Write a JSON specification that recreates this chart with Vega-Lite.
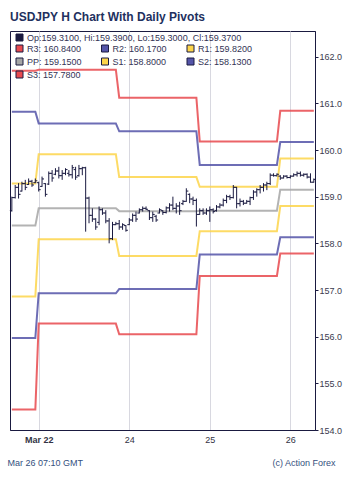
{
"$schema": "https://vega.github.io/schema/vega-lite/v6.json",
"width": 305, "height": 399,
"autosize": {"type": "none"},
"padding": {"left": 10, "top": 31, "right": 35, "bottom": 51},
"background": "white",
"config": {"font": "Liberation Sans", "view": {"stroke": "#1a1a40", "strokeWidth": 1}},
"title": {"text": "USDJPY H Chart With Daily Pivots", "anchor": "start", "fontSize": 12, "fontWeight": "bold", "color": "#22305e", "offset": 13, "dy": 15, "baseline": "alphabetic", "frame": "group"},
"datasets": {
"pivots": [
{"i":0,"R3":161.70,"R2":160.82,"R1":159.28,"PP":158.38,"S1":156.86,"S2":155.97,"S3":154.44},
{"i":7,"R3":161.70,"R2":160.82,"R1":159.28,"PP":158.38,"S1":156.86,"S2":155.97,"S3":154.44},
{"i":8,"R3":161.72,"R2":160.57,"R1":159.91,"PP":158.75,"S1":158.09,"S2":156.93,"S3":156.28},
{"i":31,"R3":161.72,"R2":160.57,"R1":159.91,"PP":158.75,"S1":158.09,"S2":156.93,"S3":156.28},
{"i":32,"R3":161.12,"R2":160.40,"R1":159.42,"PP":158.69,"S1":157.73,"S2":157.02,"S3":156.05},
{"i":55,"R3":161.12,"R2":160.40,"R1":159.42,"PP":158.69,"S1":157.73,"S2":157.02,"S3":156.05},
{"i":56,"R3":160.18,"R2":159.68,"R1":159.21,"PP":158.70,"S1":158.26,"S2":157.76,"S3":157.30},
{"i":79,"R3":160.18,"R2":159.68,"R1":159.21,"PP":158.70,"S1":158.26,"S2":157.76,"S3":157.30},
{"i":80,"R3":160.84,"R2":160.17,"R1":159.82,"PP":159.15,"S1":158.80,"S2":158.13,"S3":157.78},
{"i":90,"R3":160.84,"R2":160.17,"R1":159.82,"PP":159.15,"S1":158.80,"S2":158.13,"S3":157.78}
],
"ohlc": [
{"i":0,"o":158.70,"h":159.00,"l":158.68,"c":158.98},
{"i":1,"o":158.98,"h":159.25,"l":158.96,"c":159.20},
{"i":2,"o":159.20,"h":159.29,"l":158.96,"c":159.05},
{"i":3,"o":159.12,"h":159.32,"l":159.11,"c":159.28},
{"i":4,"o":159.28,"h":159.36,"l":159.14,"c":159.20},
{"i":5,"o":159.26,"h":159.39,"l":159.25,"c":159.33},
{"i":6,"o":159.33,"h":159.36,"l":159.21,"c":159.25},
{"i":7,"o":159.30,"h":159.39,"l":159.29,"c":159.34},
{"i":8,"o":159.30,"h":159.32,"l":159.11,"c":159.15},
{"i":9,"o":159.22,"h":159.43,"l":159.21,"c":159.38},
{"i":10,"o":159.28,"h":159.29,"l":159.00,"c":159.05},
{"i":11,"o":159.27,"h":159.54,"l":159.25,"c":159.50},
{"i":12,"o":159.50,"h":159.57,"l":159.32,"c":159.40},
{"i":13,"o":159.48,"h":159.61,"l":159.46,"c":159.55},
{"i":14,"o":159.55,"h":159.64,"l":159.39,"c":159.45},
{"i":15,"o":159.45,"h":159.57,"l":159.36,"c":159.50},
{"i":16,"o":159.50,"h":159.61,"l":159.46,"c":159.58},
{"i":17,"o":159.50,"h":159.57,"l":159.43,"c":159.47},
{"i":18,"o":159.47,"h":159.68,"l":159.39,"c":159.62},
{"i":19,"o":159.58,"h":159.64,"l":159.36,"c":159.42},
{"i":20,"o":159.45,"h":159.68,"l":159.43,"c":159.60},
{"i":21,"o":159.60,"h":159.64,"l":159.46,"c":159.62},
{"i":22,"o":159.62,"h":159.64,"l":158.25,"c":158.97},
{"i":23,"o":158.97,"h":159.00,"l":158.43,"c":158.60},
{"i":24,"o":158.60,"h":158.75,"l":158.46,"c":158.52},
{"i":25,"o":158.52,"h":158.54,"l":158.29,"c":158.35},
{"i":26,"o":158.45,"h":158.79,"l":158.39,"c":158.72},
{"i":27,"o":158.72,"h":158.75,"l":158.61,"c":158.65},
{"i":28,"o":158.65,"h":158.71,"l":158.43,"c":158.48},
{"i":29,"o":158.48,"h":158.54,"l":158.00,"c":158.10},
{"i":30,"o":158.10,"h":158.46,"l":158.07,"c":158.40},
{"i":31,"o":158.40,"h":158.46,"l":158.39,"c":158.42},
{"i":32,"o":158.42,"h":158.50,"l":158.29,"c":158.35},
{"i":33,"o":158.35,"h":158.43,"l":158.29,"c":158.40},
{"i":34,"o":158.38,"h":158.39,"l":158.25,"c":158.28},
{"i":35,"o":158.40,"h":158.54,"l":158.39,"c":158.50},
{"i":36,"o":158.50,"h":158.64,"l":158.46,"c":158.60},
{"i":37,"o":158.60,"h":158.68,"l":158.46,"c":158.52},
{"i":38,"o":158.65,"h":158.75,"l":158.64,"c":158.72},
{"i":39,"o":158.72,"h":158.79,"l":158.68,"c":158.75},
{"i":40,"o":158.75,"h":158.79,"l":158.71,"c":158.73},
{"i":41,"o":158.70,"h":158.71,"l":158.50,"c":158.55},
{"i":42,"o":158.55,"h":158.68,"l":158.46,"c":158.62},
{"i":43,"o":158.58,"h":158.61,"l":158.46,"c":158.50},
{"i":44,"o":158.65,"h":158.75,"l":158.64,"c":158.72},
{"i":45,"o":158.70,"h":158.71,"l":158.61,"c":158.66},
{"i":46,"o":158.66,"h":158.79,"l":158.64,"c":158.76},
{"i":47,"o":158.76,"h":158.86,"l":158.68,"c":158.82},
{"i":48,"o":158.82,"h":159.00,"l":158.71,"c":158.75},
{"i":49,"o":158.75,"h":158.86,"l":158.64,"c":158.80},
{"i":50,"o":158.80,"h":158.89,"l":158.61,"c":158.70},
{"i":51,"o":158.85,"h":158.93,"l":158.82,"c":158.90},
{"i":52,"o":158.90,"h":159.18,"l":158.89,"c":159.12},
{"i":53,"o":159.05,"h":159.07,"l":158.86,"c":158.95},
{"i":54,"o":158.95,"h":159.00,"l":158.82,"c":158.92},
{"i":55,"o":158.92,"h":158.96,"l":158.36,"c":158.62},
{"i":56,"o":158.62,"h":158.75,"l":158.61,"c":158.70},
{"i":57,"o":158.70,"h":158.75,"l":158.61,"c":158.65},
{"i":58,"o":158.65,"h":158.75,"l":158.61,"c":158.70},
{"i":59,"o":158.70,"h":158.79,"l":158.46,"c":158.72},
{"i":60,"o":158.72,"h":158.75,"l":158.64,"c":158.68},
{"i":61,"o":158.70,"h":158.82,"l":158.68,"c":158.78},
{"i":62,"o":158.78,"h":158.86,"l":158.75,"c":158.82},
{"i":63,"o":158.82,"h":158.96,"l":158.79,"c":158.92},
{"i":64,"o":158.92,"h":159.04,"l":158.86,"c":159.00},
{"i":65,"o":159.00,"h":159.04,"l":158.93,"c":158.98},
{"i":66,"o":158.98,"h":159.25,"l":158.96,"c":159.20},
{"i":67,"o":159.20,"h":159.21,"l":158.75,"c":158.85},
{"i":68,"o":158.85,"h":158.96,"l":158.79,"c":158.90},
{"i":69,"o":158.90,"h":158.93,"l":158.82,"c":158.86},
{"i":70,"o":158.86,"h":158.93,"l":158.85,"c":158.90},
{"i":71,"o":158.90,"h":159.00,"l":158.82,"c":158.98},
{"i":72,"o":158.98,"h":159.14,"l":158.93,"c":159.10},
{"i":73,"o":159.10,"h":159.18,"l":159.00,"c":159.15},
{"i":74,"o":159.15,"h":159.25,"l":159.07,"c":159.20},
{"i":75,"o":159.20,"h":159.29,"l":159.11,"c":159.25},
{"i":76,"o":159.25,"h":159.32,"l":159.14,"c":159.28},
{"i":77,"o":159.28,"h":159.50,"l":159.25,"c":159.46},
{"i":78,"o":159.46,"h":159.50,"l":159.43,"c":159.45},
{"i":79,"o":159.45,"h":159.50,"l":159.43,"c":159.48},
{"i":80,"o":159.44,"h":159.46,"l":159.36,"c":159.40},
{"i":81,"o":159.40,"h":159.46,"l":159.39,"c":159.44},
{"i":82,"o":159.44,"h":159.46,"l":159.39,"c":159.41},
{"i":83,"o":159.41,"h":159.46,"l":159.39,"c":159.44},
{"i":84,"o":159.44,"h":159.50,"l":159.43,"c":159.47},
{"i":85,"o":159.47,"h":159.54,"l":159.43,"c":159.50},
{"i":86,"o":159.50,"h":159.54,"l":159.43,"c":159.46},
{"i":87,"o":159.46,"h":159.50,"l":159.43,"c":159.48},
{"i":88,"o":159.48,"h":159.50,"l":159.39,"c":159.42},
{"i":89,"o":159.42,"h":159.50,"l":159.30,"c":159.31},
{"i":90,"o":159.31,"h":159.39,"l":159.30,"c":159.37}
]
},
"layer": [
{
"data": {"name": "pivots"},
"transform": [{"fold": ["R3","R2","R1","PP","S1","S2","S3"], "as": ["s","v"]}],
"mark": {"type": "line", "strokeWidth": 2, "opacity": 0.85},
"encoding": {
"x": {"field": "i", "type": "quantitative", "scale": {"domain": [-0.55, 90.35], "nice": false, "zero": false},
"axis": {"values": [8, 35, 59, 83], "labelExpr": "datum.value == 8 ? 'Mar 22' : datum.value == 35 ? '24' : datum.value == 59 ? '25' : '26'",
"labelFontWeight": {"condition": {"test": "datum.value == 8", "value": "bold"}, "value": "normal"},
"labelFontSize": 9, "labelColor": "#333344", "ticks": false, "labelPadding": 5, "labelOverlap": false,
"grid": true, "gridColor": "#d8d8e0", "domainColor": "#1a1a40",
"title": "Mar 26 07:10 GMT", "titleX": -3, "titleY": 35, "titleAlign": "left", "titleBaseline": "alphabetic",
"titleFontSize": 9, "titleFontWeight": "normal", "titleColor": "#34507e"}},
"y": {"field": "v", "type": "quantitative", "scale": {"domain": [154, 162.55], "nice": false, "zero": false},
"axis": {"orient": "right", "values": [154,154.5,155,155.5,156,156.5,157,157.5,158,158.5,159,159.5,160,160.5,161,161.5,162],
"format": ".1f", "labelFontSize": 9, "labelColor": "#3a3a4e", "tickColor": "#1a1a40", "tickSize": 3, "labelPadding": 1,
"domainColor": "#1a1a40", "grid": false,
"title": "(c) Action Forex", "titleAngle": 0, "titleAlign": "right", "titleBaseline": "alphabetic", "titleX": 20, "titleY": 434,
"titleFontSize": 9, "titleFontWeight": "normal", "titleColor": "#34507e"}},
"stroke": {"field": "s", "type": "nominal",
"scale": {"range": ["#a6a6a6","#fdd54a","#5454a8","#e8494e","#fdd54a","#5454a8","#e8494e"]},
"legend": null}
}
},
{
"data": {"name": "pivots"},
"transform": [{"fold": ["R3","R2","R1","PP","S1","S2","S3"], "as": ["key","v"]}],
"mark": {"type": "square", "filled": true, "opacity": 0, "size": 1},
"encoding": {
"x": {"field": "i", "type": "quantitative"},
"y": {"field": "v", "type": "quantitative"},
"fill": {"field": "key", "type": "nominal",
"scale": {"domain": ["R3","R2","R1","PP","S1","S2","S3"], "range": ["#e8494e","#5454a8","#fdd54a","#a6a6a6","#fdd54a","#5454a8","#e8494e"]},
"legend": {"title": null, "orient": "none", "legendX": 5, "legendY": 13, "columns": 3, "direction": "horizontal", "gridAlign": "all",
"columnPadding": 17.5, "rowPadding": 2, "symbolType": "square", "symbolSize": 49, "labelFontSize": 9, "labelOffset": 3, "padding": 0,
"labelColor": "#333355", "symbolOpacity": 1, "symbolStrokeColor": "#1a1a40", "symbolStrokeWidth": 1,
"labelExpr": "datum.label == 'R3' ? 'R3: 160.8400' : datum.label == 'R2' ? 'R2: 160.1700' : datum.label == 'R1' ? 'R1: 159.8200' : datum.label == 'PP' ? 'PP: 159.1500' : datum.label == 'S1' ? 'S1: 158.8000' : datum.label == 'S2' ? 'S2: 158.1300' : 'S3: 157.7800'"}}
}
},
{
"data": {"name": "ohlc"},
"mark": {"type": "rule", "color": "#1a1a40", "strokeWidth": 1},
"encoding": {
"x": {"field": "i", "type": "quantitative"},
"y": {"field": "l", "type": "quantitative"},
"y2": {"field": "h"}
}
},
{
"data": {"name": "ohlc"},
"mark": {"type": "tick", "orient": "horizontal", "size": 2, "thickness": 1, "xOffset": -1, "opacity": 1},
"encoding": {
"x": {"field": "i", "type": "quantitative"},
"y": {"field": "o", "type": "quantitative"},
"color": {"datum": "Op:159.3100, Hi:159.3900, Lo:159.3000, Cl:159.3700", "scale": {"range": ["#1a1a40"]},
"legend": {"title": null, "orient": "none", "legendX": 5, "legendY": 2, "symbolType": "square", "symbolSize": 49,
"symbolStrokeColor": "#1a1a40", "symbolStrokeWidth": 1, "labelFontSize": 9, "labelOffset": 3, "labelColor": "#333355", "padding": 0, "labelLimit": 400}}
}
},
{
"data": {"name": "ohlc"},
"mark": {"type": "tick", "orient": "horizontal", "size": 2, "thickness": 1, "xOffset": 1, "opacity": 1},
"encoding": {
"x": {"field": "i", "type": "quantitative"},
"y": {"field": "c", "type": "quantitative"},
"color": {"datum": "Op:159.3100, Hi:159.3900, Lo:159.3000, Cl:159.3700"}
}
}
]
}
